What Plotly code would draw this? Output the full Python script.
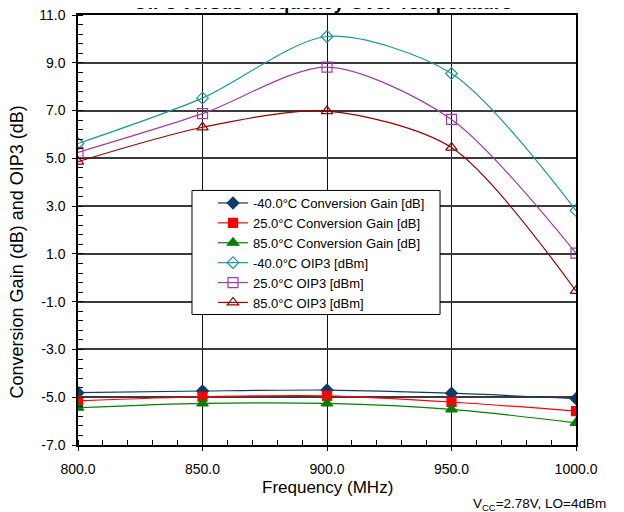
import plotly.graph_objects as go

freq = [800, 850, 900, 950, 1000]
freq_labels = ["800.0", "850.0", "900.0", "950.0", "1000.0"]
y_ticks = [-7, -5, -3, -1, 1, 3, 5, 7, 9, 11]
y_labels = ["-7.0", "-5.0", "-3.0", "-1.0", "1.0", "3.0", "5.0", "7.0", "9.0", "11.0"]

gain_m40 = [-4.81, -4.74, -4.70, -4.83, -5.06]
gain_25 = [-5.15, -4.98, -4.94, -5.20, -5.58]
gain_85 = [-5.44, -5.26, -5.26, -5.51, -6.07]
oip3_m40 = [5.62, 7.52, 10.10, 8.55, 2.82]
oip3_25 = [5.25, 6.87, 8.82, 6.63, 1.03]
oip3_85 = [4.86, 6.30, 6.98, 5.45, -0.55]

series = [
    ("-40.0°C Conversion Gain [dB]", gain_m40, "#0E3A6C", "diamond", 9),
    ("25.0°C Conversion Gain [dB]", gain_25, "#FF0000", "square", 9),
    ("85.0°C Conversion Gain [dB]", gain_85, "#008000", "triangle-up", 10),
    ("-40.0°C OIP3 [dBm]", oip3_m40, "#16999A", "diamond-open", 9),
    ("25.0°C OIP3 [dBm]", oip3_25, "#A03CAA", "square-open", 10),
    ("85.0°C OIP3 [dBm]", oip3_85, "#990000", "triangle-up-open", 10),
]

fig = go.Figure()
for name, ys, col, sym, sz in series:
    fig.add_trace(go.Scatter(
        x=freq, y=ys, name=name, mode="lines+markers",
        line=dict(color=col, width=1.2, shape="spline", smoothing=0.8),
        marker=dict(symbol=sym, color=col, size=sz, line=dict(color=col, width=1.2)),
    ))

FONT = "Arial, Liberation Sans, sans-serif"
fig.update_layout(
    width=616, height=504,
    margin=dict(l=70, r=48, t=7, b=67, autoexpand=False),
    paper_bgcolor="white", plot_bgcolor="white",
    font=dict(family=FONT, size=14, color="black"),
    legend=dict(x=0.2711, y=0.4465, xanchor="left", yanchor="middle",
                bgcolor="rgba(0,0,0,0)", borderwidth=0,
                font=dict(size=13), tracegroupgap=0),
    showlegend=True,
)
# legend frame
fig.add_shape(type="rect", xref="paper", yref="paper",
              x0=0.2289, x1=0.727, y0=0.3035, y1=0.592,
              fillcolor="white", line=dict(color="black", width=1), layer="above")
fig.update_xaxes(
    range=[800, 1000], tickvals=freq, ticktext=freq_labels,
    showgrid=True, gridcolor="#111111", gridwidth=1,
    showline=True, linecolor="black", linewidth=1.5, mirror=True,
    ticks="outside", ticklen=4, tickcolor="black", ticklabelstandoff=6,
    ticklabeloverflow="allow",
    minor=dict(dtick=10, ticks="inside", ticklen=5, tickcolor="black", showgrid=False),
    zeroline=False, automargin=False,
)
fig.update_yaxes(
    range=[-7, 11], tickvals=y_ticks, ticktext=y_labels,
    showgrid=True, gridcolor="#3a3a3a", gridwidth=1.5,
    showline=True, linecolor="black", linewidth=1.5, mirror=True,
    ticks="outside", ticklen=4, tickcolor="black", ticklabelstandoff=4,
    ticklabeloverflow="allow",
    minor=dict(tick0=-7, dtick=0.4, ticks="inside", ticklen=5, tickcolor="black", showgrid=False),
    zeroline=False, automargin=False,
)
fig.add_annotation(
    text="<b>OIP3 versus Frequency Over Temperature</b>", xref="paper", yref="paper",
    x=0.49, y=1.029, xanchor="center", yanchor="middle", showarrow=False,
    font=dict(size=19, family=FONT),
)
fig.add_annotation(
    text="Frequency (MHz)", xref="paper", yref="paper",
    x=0.5, y=-0.098, xanchor="center", yanchor="middle", showarrow=False,
    font=dict(size=17, family=FONT),
)
fig.add_annotation(
    text="Conversion Gain (dB) and OIP3 (dB)", xref="paper", yref="paper",
    x=-0.1235, y=0.449, xanchor="center", yanchor="middle", showarrow=False,
    textangle=-90, font=dict(size=18, family=FONT),
)
fig.add_annotation(
    text="V<sub>CC</sub>=2.78V, LO=4dBm", xref="paper", yref="paper",
    x=1.064, y=-0.138, xanchor="right", yanchor="middle", showarrow=False,
    font=dict(size=13.5, family=FONT),
)
fig.write_html("out.html")
